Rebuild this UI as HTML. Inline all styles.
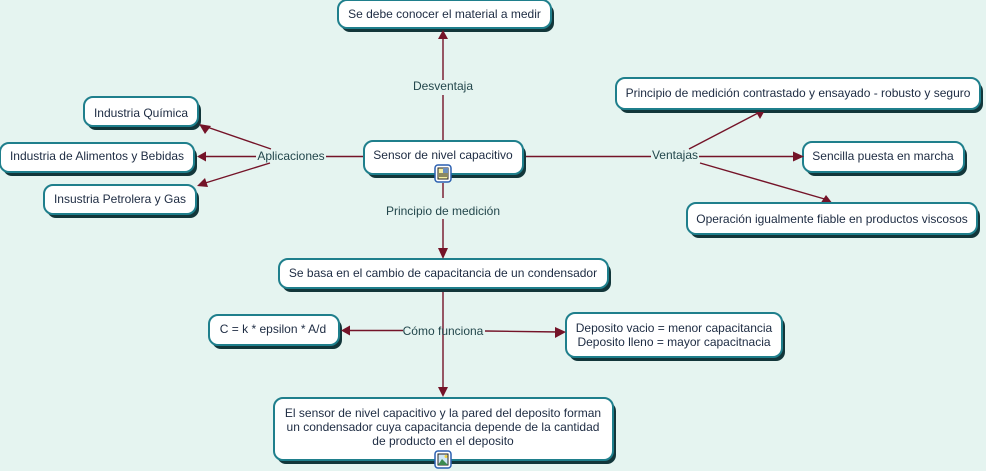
<!DOCTYPE html>
<html><head><meta charset="utf-8"><style>
html,body{margin:0;padding:0;background:#e5f4f0}
svg{display:block;filter:blur(0.3px)}
text{font-family:"Liberation Sans",sans-serif;font-size:12px;text-anchor:middle}
.n{fill:#1d2b42}
.l{fill:#23474c}
.s{fill:#12363a}
.b{fill:#fff;stroke:#1f7f8c;stroke-width:2}
.c{stroke:#741328;stroke-width:1.4;fill:none}
.a{fill:#741328}
</style></head><body>
<svg width="986" height="471" viewBox="0 0 986 471" xmlns="http://www.w3.org/2000/svg">
<rect width="986" height="471" fill="#e5f4f0"/>
<g class="c">
<path d="M443 141V95M443 80V34"/>
<path d="M364 156.500H326M256 156.500H200"/>
<path d="M271 149L204 126M270 163L202 184"/>
<path d="M523 156.500H651M699 156.500H798"/>
<path d="M689 149L760 112M700 163L828 200"/>
<path d="M443 183V198M443 219V250"/>
<path d="M443 290V390"/>
<path d="M403 330.500H345M485 331L560 332"/>
</g>
<g class="a">
<path d="M826 195L833 204H820Z"/>
</g>
<g>
<rect class="s" x="341" y="4" width="213" height="28" rx="9"/><rect class="b" x="338" y="0" width="213" height="28" rx="9"/>
<rect class="s" x="87" y="101" width="114" height="29" rx="9"/><rect class="b" x="84" y="97" width="114" height="29" rx="9"/>
<rect class="s" x="3" y="147" width="194" height="29" rx="9"/><rect class="b" x="0" y="143" width="194" height="29" rx="9"/>
<rect class="s" x="47" y="189" width="152" height="29" rx="9"/><rect class="b" x="44" y="185" width="152" height="29" rx="9"/>
<rect class="s" x="367" y="145" width="159" height="33" rx="9"/><rect class="b" x="364" y="141" width="159" height="33" rx="9"/>
<rect class="s" x="619" y="82" width="364" height="31" rx="9"/><rect class="b" x="616" y="78" width="364" height="31" rx="9"/>
<rect class="s" x="806" y="146" width="161" height="30" rx="9"/><rect class="b" x="803" y="142" width="161" height="30" rx="9"/>
<rect class="s" x="690" y="207" width="290" height="31" rx="9"/><rect class="b" x="687" y="203" width="290" height="31" rx="9"/>
<rect class="s" x="282" y="263" width="329" height="29" rx="9"/><rect class="b" x="279" y="259" width="329" height="29" rx="9"/>
<rect class="s" x="212" y="319" width="130" height="30" rx="9"/><rect class="b" x="209" y="315" width="130" height="30" rx="9"/>
<rect class="s" x="569" y="317" width="216" height="44" rx="9"/><rect class="b" x="566" y="313" width="216" height="44" rx="9"/>
<rect class="s" x="277" y="402" width="339" height="62" rx="9"/><rect class="b" x="274" y="398" width="339" height="62" rx="9"/>
</g>
<g class="a">
<path d="M443 30L438 39H448Z"/>
<path d="M199 124L211 126L205 134Z"/>
<path d="M197 156.500L206 151.500V161.500Z"/>
<path d="M197 186L205 178L208 187Z"/>
<path d="M764 112L756 112L760 119Z"/>
<path d="M804 156.500L793 151.500V161.500Z"/>
<path d="M443 259L438 248H448Z"/>
<path d="M341 330.500L350 325.500V335.500Z"/>
<path d="M566 332L555 327V338Z"/>
<path d="M443 397L438 387H448Z"/>
</g>
<g class="n">
<text x="444.500" y="18">Se debe conocer el material a medir</text>
<text x="141" y="117">Industria Química</text>
<text x="97" y="160">Industria de Alimentos y Bebidas</text>
<text x="120" y="203">Insustria Petrolera y Gas</text>
<text x="443" y="159">Sensor de nivel capacitivo</text>
<text x="798" y="97">Principio de medición contrastado y ensayado - robusto y seguro</text>
<text x="883" y="160">Sencilla puesta en marcha</text>
<text x="832" y="223">Operación igualmente fiable en productos viscosos</text>
<text x="443" y="277">Se basa en el cambio de capacitancia de un condensador</text>
<text x="273" y="333">C = k * epsilon * A/d</text>
<text x="674" y="332">Deposito vacio = menor capacitancia</text>
<text x="674" y="346">Deposito lleno = mayor capacitnacia</text>
<text x="443" y="417">El sensor de nivel capacitivo y la pared del deposito forman</text>
<text x="443" y="431">un condensador cuya capacitancia depende de la cantidad</text>
<text x="443" y="445">de producto en el deposito</text>
</g>
<g class="l">
<text x="443" y="90">Desventaja</text>
<text x="291" y="160">Aplicaciones</text>
<text x="675" y="159">Ventajas</text>
<text x="443" y="215">Principio de medición</text>
<text x="443" y="335">Cómo funciona</text>
</g>
<g>
<rect x="435" y="165" width="16" height="17" rx="3" fill="#fff" stroke="#2a5fb0" stroke-width="1.500"/>
<rect x="438" y="168" width="10" height="11" fill="#f4eea0" stroke="#222" stroke-width="1"/>
<rect x="443" y="168" width="5" height="5" fill="#6b8fc0"/>
<path d="M439 174h8M439 176h8" stroke="#222" stroke-width="1"/>
<rect x="435" y="451" width="16" height="17" rx="3" fill="#fff" stroke="#2a5fb0" stroke-width="1.500"/>
<rect x="438" y="454" width="10" height="11" fill="#cfe6f5" stroke="#222" stroke-width="1"/>
<path d="M438 465L442 459L448 465Z" fill="#3c8a50"/>
<circle cx="446" cy="456.500" r="1.500" fill="#f0d040"/>
</g>
</svg>
</body></html>
